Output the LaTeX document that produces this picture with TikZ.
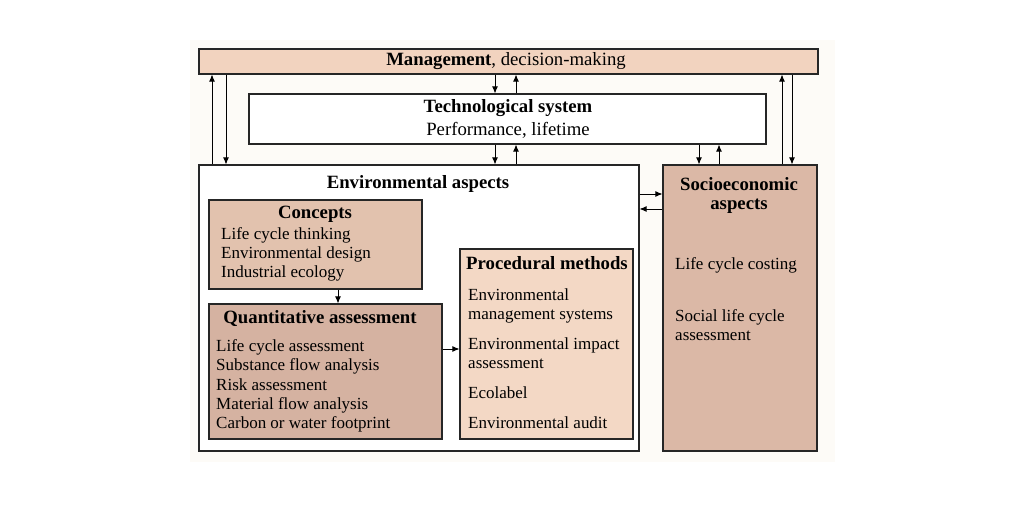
\documentclass[tikz,border=0pt]{standalone}
\usepackage{fontspec}
\setmainfont{Liberation Serif}
\usetikzlibrary{arrows.meta,fit}
\definecolor{mgmtfill}{HTML}{F2D3BF}
\definecolor{concfill}{HTML}{E2C2AE}
\definecolor{quanfill}{HTML}{D5B2A1}
\definecolor{procfill}{HTML}{F3D8C5}
\definecolor{sociofill}{HTML}{DBB8A6}
\definecolor{panel}{HTML}{FDFBF7}
\tikzstyle{box}=[draw=black!85,line width=0.9pt,inner sep=0pt]
\tikzstyle{txt}=[font=\fontsize{14.5}{16}\selectfont,inner sep=0pt]
\tikzstyle{ttl}=[font=\fontsize{16}{18}\selectfont\bfseries,inner sep=0pt]
\tikzstyle{item}=[txt,anchor=base west]
\tikzstyle{link}=[draw,line width=0.7pt,-{Latex[length=6pt,width=5pt]}]

\begin{document}
\begin{tikzpicture}[x=0.03cm,y=-0.03cm]
          \useasboundingbox (0,0) rectangle (1024,512);
          \fill[panel] (190,40) rectangle (835,462);
          % boxes
          \node[box,fill=mgmtfill,fit={(199,49) (818,74)}] (mgmt) {};
          \node[box,fill=white,fit={(249,94) (766,144)}] (tech) {};
          \node[box,fill=white,fit={(199,165) (639,451)}] (env) {};
          \node[box,fill=sociofill,fit={(663,165) (817,451)}] (socio) {};
          \node[box,fill=concfill,fit={(209,200) (422,289)}] (conc) {};
          \node[box,fill=quanfill,fit={(209,304) (442,439)}] (quan) {};
          \node[box,fill=procfill,fit={(460,249) (633,439)}] (proc) {};
          % titles
          \node[txt,font=\fontsize{16}{18}\selectfont] (mgmtt) at (506,61) {\textbf{Management}, decision-making};
          \node[ttl] (techt) at (508,108) {Technological system};
          \node[txt,font=\fontsize{16}{18}\selectfont] (techs) at (508,130) {Performance, lifetime};
          \node[ttl] (envt) at (418,184) {Environmental aspects};
          \node[ttl] (sociot1) at (739,184) {Socioeconomic};
          \node[ttl] (sociot2) at (739,206) {aspects};
          \node[ttl] (conct) at (315,214) {Concepts};
          \node[ttl] (quant) at (320,319) {Quantitative assessment};
          \node[ttl] (proct) at (547,263) {Procedural methods};
          % items
          \node[item] (c1) at (221,240) {Life cycle thinking};
          \node[item] (c2) at (221,259) {Environmental design};
          \node[item] (c3) at (221,278) {Industrial ecology};
          \node[item] (q1) at (216,352) {Life cycle assessment};
          \node[item] (q2) at (216,371) {Substance flow analysis};
          \node[item] (q3) at (216,390) {Risk assessment};
          \node[item] (q4) at (216,409) {Material flow analysis};
          \node[item] (q5) at (216,428) {Carbon or water footprint};
          \node[item] (p1) at (468,301) {Environmental};
          \node[item] (p1b) at (468,320) {management systems};
          \node[item] (p2) at (468,350) {Environmental impact};
          \node[item] (p2b) at (468,369) {assessment};
          \node[item] (p3) at (468,398) {Ecolabel};
          \node[item] (p4) at (468,428) {Environmental audit};
          \node[item] (s1) at (675,270) {Life cycle costing};
          \node[item] (s2) at (675,322) {Social life cycle};
          \node[item] (s2b) at (675,341) {assessment};
          % arrows
          \coordinate (xa) at (495,0);
          \coordinate (xb) at (516,0);
          \coordinate (xc) at (699,0);
          \coordinate (xd) at (719,0);
          \coordinate (xe) at (212,0);
          \coordinate (xf) at (226,0);
          \coordinate (xg) at (782,0);
          \coordinate (xh) at (792,0);
          \coordinate (xi) at (338,0);
          \coordinate (ya) at (0,194);
          \coordinate (yb) at (0,209);
          \coordinate (yc) at (0,349);
          \draw[link] (mgmt.south -| xa) -- (tech.north -| xa);
          \draw[link] (tech.north -| xb) -- (mgmt.south -| xb);
          \draw[link] (tech.south -| xa) -- (env.north -| xa);
          \draw[link] (env.north -| xb) -- (tech.south -| xb);
          \draw[link] (tech.south -| xc) -- (socio.north -| xc);
          \draw[link] (socio.north -| xd) -- (tech.south -| xd);
          \draw[link] (env.north -| xe) -- (mgmt.south -| xe);
          \draw[link] (mgmt.south -| xf) -- (env.north -| xf);
          \draw[link] (socio.north -| xg) -- (mgmt.south -| xg);
          \draw[link] (mgmt.south -| xh) -- (socio.north -| xh);
          \draw[link] (env.east |- ya) -- (socio.west |- ya);
          \draw[link] (socio.west |- yb) -- (env.east |- yb);
          \draw[link] (conc.south -| xi) -- (quan.north -| xi);
          \draw[link] (quan.east |- yc) -- (proc.west |- yc);
\end{tikzpicture}
\end{document}
